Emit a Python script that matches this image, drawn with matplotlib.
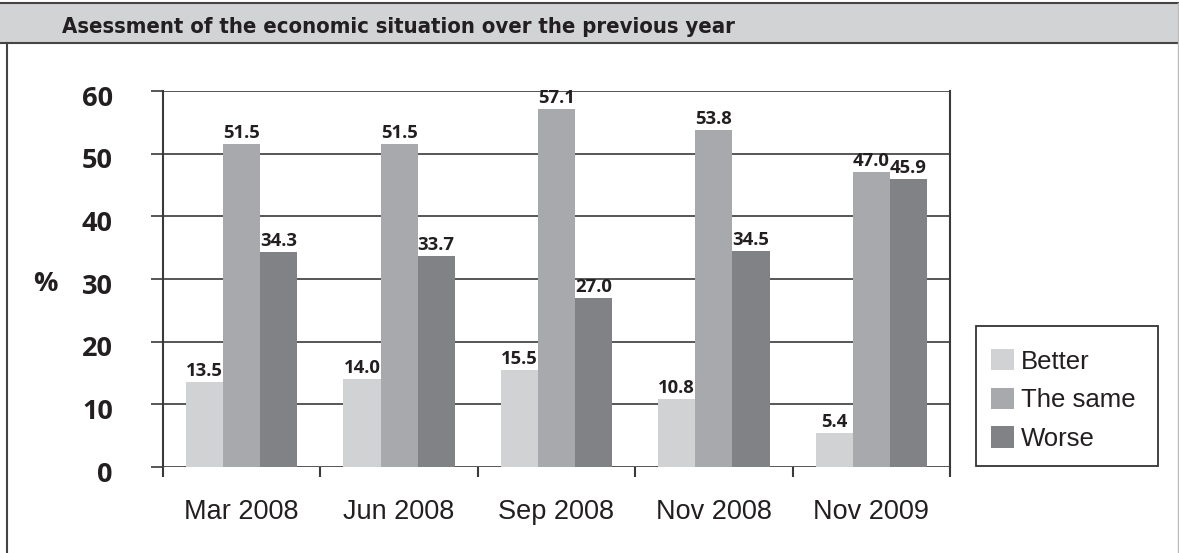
import matplotlib
matplotlib.use("Agg")
import matplotlib.pyplot as plt
import numpy as np
from matplotlib.patches import Rectangle, Patch
from matplotlib.lines import Line2D
from matplotlib.transforms import ScaledTranslation, blended_transform_factory
from matplotlib import font_manager

categories = ["Mar 2008", "Jun 2008", "Sep 2008", "Nov 2008", "Nov 2009"]
series_names = ["Better", "The same", "Worse"]
better = [13.5, 14.0, 15.5, 10.8, 5.4]
same = [51.5, 51.5, 57.1, 53.8, 47.0]
worse = [34.3, 33.7, 27.0, 34.5, 45.9]
y_ticks = [0, 10, 20, 30, 40, 50, 60]
title = "Asessment of the economic situation over the previous year"

colors = ["#d1d2d4", "#a7a9ac", "#808285"]
txt = "#231f20"
line_c = "#3a3a3a"

W, H = 1179, 553
fig = plt.figure(figsize=(W / 100, H / 100), dpi=100)

names = {f.name for f in font_manager.fontManager.ttflist}
cond = [f for f in font_manager.fontManager.ttflist
        if f.name == "DejaVu Sans" and f.stretch == "condensed" and f.weight in (700, "bold")]
if "Liberation Sans Narrow" in names:
    title_kw = dict(family="Liberation Sans Narrow", fontsize=17)
elif cond:
    title_kw = dict(family="DejaVu Sans", fontstretch="condensed", fontsize=15.8)
else:
    title_kw = dict(family="Roboto", fontsize=15)
bold_font = "Open Sans"
reg_font = "Liberation Sans"

def fx(px):
    return px / W

def fy(py):
    return 1 - py / H

# frame and title band
fig.patches.append(Rectangle((0, fy(43)), 1, fy(3) - fy(43), transform=fig.transFigure,
                             facecolor="#d2d3d5", edgecolor="none", zorder=0))
fig.lines.append(Line2D([0, fx(1178)], [fy(3), fy(3)], transform=fig.transFigure, color="#444444", lw=1.5))
fig.lines.append(Line2D([0, fx(1178)], [fy(43), fy(43)], transform=fig.transFigure, color="#444444", lw=1.5))
fig.lines.append(Line2D([fx(7), fx(7)], [fy(43), 0], transform=fig.transFigure, color="#444444", lw=1.5))
fig.lines.append(Line2D([fx(1178), fx(1178)], [fy(3), 0], transform=fig.transFigure, color="#bbbbbb", lw=1.0))
fig.text(fx(62), fy(33), title, fontweight="bold", color=txt, ha="left", va="baseline", **title_kw)

ax = fig.add_axes([fx(163), fy(467), fx(950) - fx(163), fy(91) - fy(467)])
ax.set_xlim(0, len(categories))
ax.set_ylim(0, 60)

x = np.arange(len(categories)) + 0.5
bw = 0.236
for k, (vals, name) in enumerate(zip([better, same, worse], series_names)):
    pos = x + (k - 1) * bw
    ax.bar(pos, vals, width=bw, color=colors[k], edgecolor="none", zorder=3, label=name)
    for xp, v in zip(pos, vals):
        ax.annotate(f"{v:.1f}", (xp, v), xytext=(0, 1.5), textcoords="offset points",
                    ha="center", va="bottom", fontsize=13.3, fontweight="bold",
                    family=bold_font, color=txt, zorder=4)

# gridlines
for t in y_ticks:
    ax.axhline(t, color=line_c, lw=1.2, zorder=1)

for s in ["top", "bottom"]:
    ax.spines[s].set_visible(False)
for s in ["left", "right"]:
    ax.spines[s].set_color(line_c)
    ax.spines[s].set_linewidth(1.5)

ax.set_yticks(y_ticks)
ax.tick_params(axis="y", length=8.6, width=1.2, color=line_c, direction="out", labelleft=False)

ax.set_xticks(x)
ax.set_xticklabels(categories, fontsize=19.5, family=reg_font, color=txt)
ax.tick_params(axis="x", which="major", length=0, pad=23)
ax.set_xticks(np.arange(len(categories) + 1), minor=True)
ax.tick_params(axis="x", which="minor", length=7.2, width=1.5, color=line_c, direction="out")

# y tick labels
tr = blended_transform_factory(fig.transFigure, ax.transData) + ScaledTranslation(0, -0.075, fig.dpi_scale_trans)
for t in y_ticks:
    ax.text(fx(113), t, str(t), transform=tr, ha="right", va="center", fontsize=19.5,
            fontweight="bold", family=bold_font, color=txt, clip_on=False)
fig.text(fx(45), fy(284), "%", ha="center", va="center", fontsize=19.5, fontweight="bold",
         family=bold_font, color=txt)

# legend
fig.patches.append(Rectangle((fx(976), fy(466)), fx(1158) - fx(976), fy(326) - fy(466),
                             transform=fig.transFigure, facecolor="white",
                             edgecolor="#333333", lw=1.3, zorder=1))
handles = [Patch(facecolor=c, edgecolor="none") for c in colors]
leg = fig.legend(handles, series_names, loc="upper left",
                 bbox_to_anchor=(fx(991), fy(349)), bbox_transform=fig.transFigure,
                 borderaxespad=0, borderpad=0, frameon=False,
                 prop={"family": reg_font, "size": 18.5},
                 handlelength=0.9, handleheight=0.9, handletextpad=0.25, labelspacing=0.55)
for t in leg.get_texts():
    t.set_color(txt)

fig.savefig("out.png", dpi=100)
